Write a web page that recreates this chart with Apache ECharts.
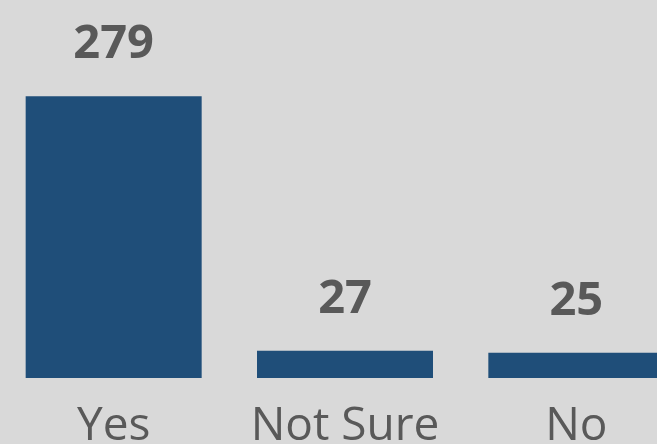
<!DOCTYPE html>
<html>
<head>
<meta charset="utf-8">
<script src="https://cdn.jsdelivr.net/npm/echarts@6/dist/echarts.min.js"></script>
<style>
  html,body{margin:0;padding:0;background:#d9d9d9;}
  #chart{width:657px;height:444px;}
</style>
</head>
<body>
<div id="chart"></div>
<script>
const categories = ["Yes", "Not Sure", "No"];
const counts = [279, 27, 25];

let myChart = echarts.init(document.getElementById("chart"));
myChart.setOption({
    backgroundColor: "#d9d9d9",
    animation: false,
    grid: {
        left: -2,
        width: 694,
        top: 75,
        bottom: 66,
        outerBoundsMode: "none"
    },
    xAxis: {
        type: "category",
        data: categories,
        axisLine: { show: false },
        axisTick: { show: false },
        axisLabel: {
            interval: 0,
            color: "#595959",
            fontFamily: "Open Sans",
            fontSize: 46,
            margin: 26
        }
    },
    yAxis: {
        type: "value",
        min: 0,
        max: 300,
        show: false,
        splitLine: { show: false }
    },
    series: [
        {
            type: "bar",
            data: counts,
            barWidth: 176,
            itemStyle: { color: "#1f4e79" },
            label: {
                show: true,
                position: "top",
                distance: 28,
                color: "#595959",
                fontFamily: "Open Sans",
                fontWeight: "bold",
                fontSize: 47
            }
        }
    ]
});
</script>
</body>
</html>
